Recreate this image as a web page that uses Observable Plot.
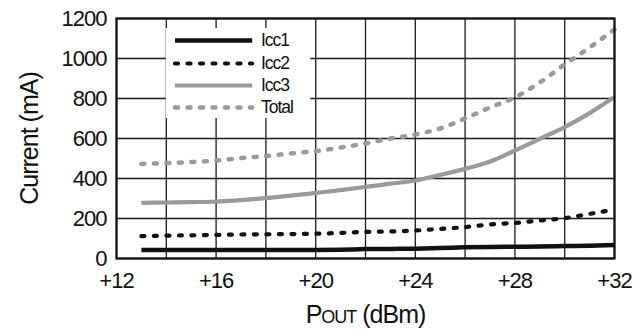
<!DOCTYPE html>
<html>
<head>
<meta charset="utf-8">
<script src="https://cdn.jsdelivr.net/npm/d3@7"></script>
<script src="https://cdn.jsdelivr.net/npm/@observablehq/plot@0.6"></script>
<style>
  html, body { margin: 0; padding: 0; background: #fff; }
  #chart { width: 641px; height: 333px; }
  #chart svg text { letter-spacing: -1px; }
</style>
</head>
<body>
<div id="chart"></div>
<script>
// ---- data ----
const pout = [13, 14, 15, 16, 17, 18, 19, 20, 21, 22, 23, 24, 25, 26, 27, 28, 29, 30, 31, 32];
const icc1 = [43, 43, 43, 43, 43, 43, 43, 43, 44, 47, 48, 49, 52, 56, 58, 59, 60, 62, 64, 68];
const icc2 = [112, 114, 116, 118, 120, 121, 122, 124, 128, 133, 135, 140, 148, 157, 170, 178, 190, 202, 223, 245];
const icc3 = [278, 280, 282, 285, 292, 302, 314, 328, 342, 358, 374, 390, 418, 448, 485, 540, 598, 657, 727, 807];
const total = [473, 477, 482, 490, 502, 512, 525, 537, 555, 575, 600, 620, 650, 700, 755, 805, 880, 970, 1055, 1145];

const seriesNames = ["Icc1", "Icc2", "Icc3", "Total"];
const xTicks = [12, 16, 20, 24, 28, 32];
const yTicks = [0, 200, 400, 600, 800, 1000, 1200];
const xGrid = [12, 14, 16, 18, 20, 22, 24, 26, 28, 30, 32];
const yGrid = [0, 200, 400, 600, 800, 1000, 1200];
const xTitle = "Pout (dBm)";
const yTitle = "Current (mA)";

// ---- styles per series ----
const styles = {
  Icc1:  {stroke: "#111", strokeWidth: 4.5, dash: null},
  Icc2:  {stroke: "#111", strokeWidth: 4.2, dash: "3,9.5"},
  Icc3:  {stroke: "#9a9a9a", strokeWidth: 4.2, dash: null},
  Total: {stroke: "#9a9a9a", strokeWidth: 4.5, dash: "3,9.5"}
};
const values = {Icc1: icc1, Icc2: icc2, Icc3: icc3, Total: total};

// legend layout (in data units, inside the frame)
const legendX1 = 14.35, legendX2 = 17.45, legendTextX = 17.8;
const legendY = {Icc1: 1090, Icc2: 975, Icc3: 865, Total: 755};
const legendBox = {x1: 14.0, x2: 19.8, y1: 700, y2: 1150};

const seriesMarks = seriesNames.map(name => {
  const s = styles[name];
  const rows = pout.map((x, i) => ({x, y: values[name][i]}));
  return Plot.line(rows, {
    x: "x", y: "y", stroke: s.stroke, strokeWidth: s.strokeWidth,
    strokeDasharray: s.dash || undefined, strokeLinecap: s.dash ? "round" : "butt",
    curve: "monotone-x"
  });
});

const legendMarks = seriesNames.map(name => {
  const s = styles[name];
  const rows = [{x: legendX1, y: legendY[name]}, {x: legendX2, y: legendY[name]}];
  return Plot.line(rows, {
    x: "x", y: "y", stroke: s.stroke, strokeWidth: s.strokeWidth,
    strokeDasharray: s.dash || undefined, strokeLinecap: s.dash ? "round" : "butt"
  });
});

const chart = Plot.plot({
  width: 641,
  height: 333,
  marginLeft: 116,
  marginRight: 27,
  marginTop: 18,
  marginBottom: 75,
  style: {fontFamily: "'Liberation Sans', Arial, sans-serif", fontSize: "22px", color: "#111", background: "#fff"},
  x: {domain: [12, 32]},
  y: {domain: [0, 1200]},
  marks: [
    Plot.ruleX(xGrid, {stroke: "#1a1a1a", strokeWidth: 1.3, strokeOpacity: 1}),
    Plot.ruleY(yGrid, {stroke: "#1a1a1a", strokeWidth: 1.3, strokeOpacity: 1}),
    Plot.rect([legendBox], {x1: "x1", x2: "x2", y1: "y1", y2: "y2", fill: "#fff"}),
    ...seriesMarks,
    ...legendMarks,
    Plot.text(seriesNames, {
      x: () => legendTextX, y: d => legendY[d], text: d => d,
      textAnchor: "start", fontSize: 17.5,
      fill: "#111"
    }),
    Plot.frame({stroke: "#111", strokeWidth: 2.2}),
    Plot.axisX({ticks: xTicks, tickSize: 0, tickPadding: 14, tickFormat: d => "+" + d, fontSize: 22, label: null}),
    Plot.axisY({ticks: yTicks, tickSize: 0, tickPadding: 10, tickFormat: d => String(d), fontSize: 22, label: null}),
    Plot.text([yTitle], {frameAnchor: "left", dx: -87, rotate: -90, textAnchor: "middle", lineAnchor: "middle", fontSize: 25, fill: "#111"}),
    Plot.text([xTitle], {frameAnchor: "bottom", dy: 56, textAnchor: "middle", lineAnchor: "middle", fontSize: 25, fill: "#111"})
  ]
});

document.getElementById("chart").appendChild(chart);

// render "Pout" with small-caps "OUT"
d3.select(chart).selectAll("text").each(function() {
  if (this.textContent === xTitle) {
    const t = d3.select(this);
    t.text(null);
    t.append("tspan").text("P");
    t.append("tspan").attr("font-size", 18).text("OUT");
    t.append("tspan").text(" (dBm)");
  }
});
</script>
</body>
</html>
